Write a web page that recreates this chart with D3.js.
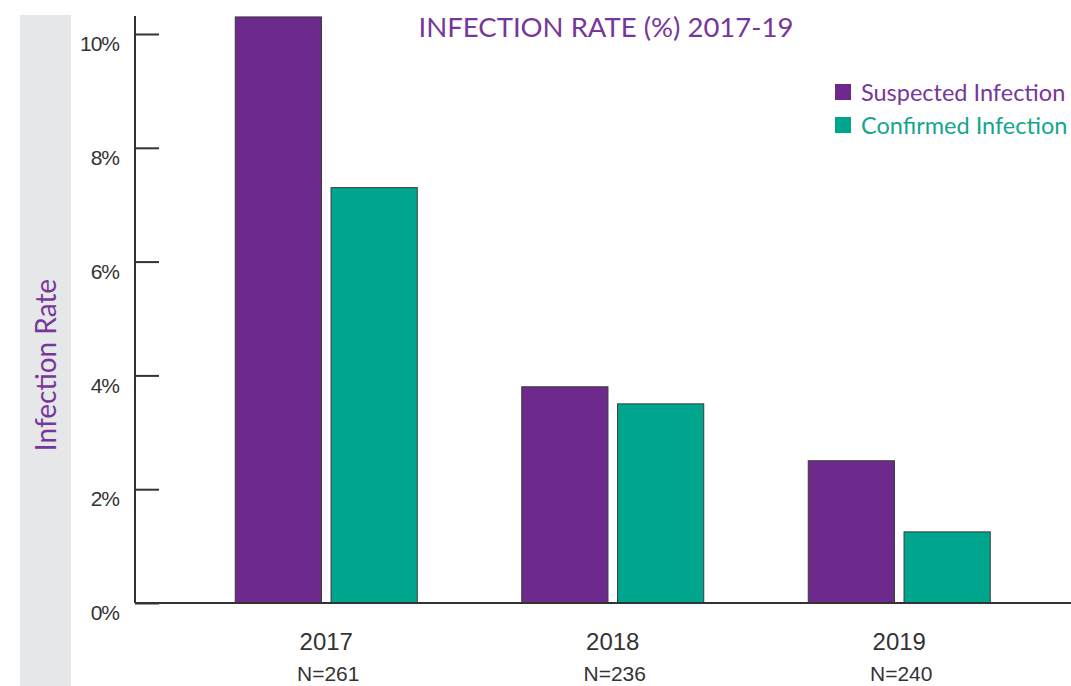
<!DOCTYPE html>
<html>
<head>
  <meta charset="utf-8">
  <title>Infection Rate 2017-19</title>
  <script src="https://d3js.org/d3.v7.min.js"></script>
  <style>
    body { margin: 0; background: #fff; }
    .tick text { font-family: "Liberation Sans", Arial, sans-serif; }
  </style>
</head>
<body>
  <div id="chart"></div>

  <script>
    // Data
    const years = ["2017", "2018", "2019"];
    const sampleSizes = ["N=261", "N=236", "N=240"];
    const series = ["Suspected Infection", "Confirmed Infection"];
    const suspected = [10.3, 3.8, 2.5];
    const confirmed = [7.3, 3.5, 1.25];
    const yTicks = [0, 2, 4, 6, 8, 10];

    const colors = ["#6d2a8c", "#00a58e"];
    const textColors = ["#77379a", "#14a68e"];

    const width = 1071, height = 686;
    const margin = { top: 16, left: 135, bottom: 83 };

    const svg = d3.select("#chart")
                  .append("svg")
                  .attr("width", width)
                  .attr("height", height);

    // grey band behind the y title
    svg.append("rect")
       .attr("x", 20).attr("y", 15)
       .attr("width", 51).attr("height", height - 15)
       .attr("fill", "#e6e7e9");

    // scales
    const y = d3.scaleLinear()
                .domain([0, 10])
                .range([603, 34]);

    const x = d3.scaleBand()
                .domain(years)
                .range([183, 1042.5]);

    const xs = d3.scaleBand()
                 .domain(series)
                 .range([0, 182])
                 .paddingInner(0.1);

    const rows = years.map((yr, i) => ({ year: yr, values: [suspected[i], confirmed[i]] }));

    // bars
    const groups = svg.selectAll(".group")
       .data(rows)
       .enter()
       .append("g")
       .attr("class", "group")
       .attr("transform", d => "translate(" + (x(d.year) + x.bandwidth() / 2 - 91) + ",0)");

    groups.selectAll("rect")
       .data(d => d.values.map((v, j) => ({ key: series[j], value: v, j: j })))
       .enter()
       .append("rect")
       .attr("x", d => xs(d.key))
       .attr("width", xs.bandwidth())
       .attr("y", d => y(d.value))
       .attr("height", d => y(0) - y(d.value))
       .attr("fill", d => colors[d.j])
       .attr("stroke", "#3a3a3a")
       .attr("stroke-width", 1);

    // y axis
    const yAxis = svg.append("g")
       .attr("transform", "translate(" + margin.left + ",0)")
       .call(d3.axisLeft(y)
               .tickValues(yTicks)
               .tickFormat(d => d + "%")
               .tickSizeInner(-24)
               .tickSizeOuter(0)
               .tickPadding(16));

    yAxis.select(".domain").remove();
    yAxis.selectAll(".tick line").attr("stroke", "#333").attr("stroke-width", 2);
    yAxis.selectAll(".tick text")
       .attr("y", 10)
       .attr("fill", "#333")
       .style("font-size", "21px")
       .style("letter-spacing", "-1px");

    svg.append("line")
       .attr("x1", margin.left).attr("x2", margin.left)
       .attr("y1", margin.top).attr("y2", y(0))
       .attr("stroke", "#333").attr("stroke-width", 2);

    // x axis line
    svg.append("line")
       .attr("x1", margin.left).attr("x2", width)
       .attr("y1", y(0)).attr("y2", y(0))
       .attr("stroke", "#333").attr("stroke-width", 2);

    // year and N labels
    svg.selectAll(".year")
       .data(years)
       .enter()
       .append("text")
       .attr("x", d => x(d) + x.bandwidth() / 2)
       .attr("y", 650)
       .attr("text-anchor", "middle")
       .attr("font-family", "Liberation Sans, Arial, sans-serif")
       .attr("font-size", 24)
       .attr("fill", "#333")
       .text(d => d);

    svg.selectAll(".nlab")
       .data(sampleSizes)
       .enter()
       .append("text")
       .attr("x", (d, i) => x(years[i]) + x.bandwidth() / 2 + 2)
       .attr("y", 681)
       .attr("text-anchor", "middle")
       .attr("font-family", "Liberation Sans Narrow, Liberation Sans, Arial, sans-serif")
       .attr("font-size", 21)
       .attr("fill", "#333")
       .text(d => d);

    // title
    svg.append("text")
       .attr("x", 606)
       .attr("y", 37)
       .attr("text-anchor", "middle")
       .attr("font-family", "Lato, sans-serif")
       .attr("font-size", 27.5)
       .attr("fill", "#77379a")
       .text("INFECTION RATE (%) 2017-19");

    // y title
    svg.append("text")
       .attr("transform", "translate(56,365) rotate(-90)")
       .attr("text-anchor", "middle")
       .attr("font-family", "Lato, sans-serif")
       .attr("font-size", 28)
       .attr("fill", "#77379a")
       .text("Infection Rate");

    // legend
    const legend = svg.selectAll(".legend")
       .data(series)
       .enter()
       .append("g")
       .attr("class", "legend")
       .attr("transform", (d, i) => "translate(835," + (84 + i * 33) + ")");

    legend.append("rect")
       .attr("width", 16).attr("height", 16)
       .attr("fill", (d, i) => colors[i]);

    legend.append("text")
       .attr("x", 26)
       .attr("y", 17)
       .attr("font-family", "Lato, sans-serif")
       .attr("font-size", 23.5)
       .attr("fill", (d, i) => textColors[i])
       .text(d => d);
  </script>
</body>
</html>
